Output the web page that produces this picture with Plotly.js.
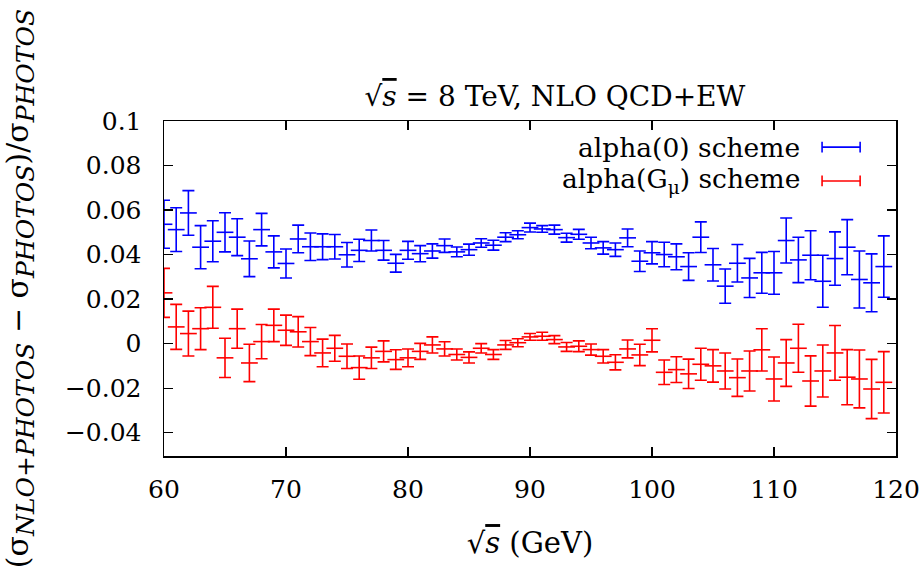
<!DOCTYPE html>
<html>
<head>
<meta charset="utf-8">
<script src="https://cdn.plot.ly/plotly-3.0.1.min.js"></script>
<style>html,body{margin:0;padding:0;background:#fff;}#plot{width:923px;height:566px;}</style>
</head>
<body>
<div id="plot"></div>
<script>
const sqrtS = [60,61,62,63,64,65,66,67,68,69,70,71,72,73,74,75,76,77,78,79,80,81,82,83,84,85,86,87,88,89,90,91,92,93,94,95,96,97,98,99,100,101,102,103,104,105,106,107,108,109,110,111,112,113,114,115,116,117,118,119];

const alpha0 = [0.0536,0.0512,0.0587,0.0433,0.0460,0.0500,0.0478,0.0381,0.0512,0.0412,
  0.0360,0.0470,0.0435,0.0435,0.0435,0.0399,0.0419,0.0463,0.0419,0.0361,
  0.0419,0.0404,0.0416,0.0440,0.0412,0.0422,0.0452,0.0442,0.0478,0.0489,
  0.0521,0.0515,0.0512,0.0476,0.0491,0.0452,0.0430,0.0422,0.0475,0.0370,
  0.0408,0.0400,0.0390,0.0346,0.0478,0.0354,0.0258,0.0361,0.0295,0.0318,
  0.0318,0.0463,0.0376,0.0397,0.0280,0.0382,0.0433,0.0288,0.0273,0.0346];
const alpha0Err = [0.0108,0.0098,0.0100,0.0097,0.0092,0.0088,0.0083,0.0080,0.0073,0.0072,
  0.0065,0.0062,0.0062,0.0058,0.0055,0.0055,0.0050,0.0047,0.0044,0.0040,
  0.0040,0.0036,0.0032,0.0030,0.0022,0.0025,0.0019,0.0022,0.0020,0.0018,
  0.0020,0.0015,0.0020,0.0020,0.0022,0.0026,0.0028,0.0030,0.0040,0.0046,
  0.0050,0.0055,0.0058,0.0062,0.0069,0.0073,0.0077,0.0084,0.0088,0.0092,
  0.0096,0.0101,0.0102,0.0110,0.0117,0.0120,0.0124,0.0128,0.0130,0.0138];

const alphaGmu = [0.0228,0.0075,0.0045,0.0067,0.0163,-0.0064,0.0067,-0.0087,0.0009,0.0082,
  0.0060,0.0053,0.0009,-0.0042,-0.0021,-0.0057,-0.0108,-0.0064,-0.0035,-0.0072,
  -0.0064,-0.0035,-0.0006,-0.0024,-0.0049,-0.0062,-0.0021,-0.0049,-0.0006,0.0004,
  0.0030,0.0033,0.0018,-0.0015,-0.0012,-0.0027,-0.0057,-0.0084,-0.0024,-0.0051,
  0.0015,-0.0129,-0.0117,-0.0136,-0.0093,-0.0100,-0.0123,-0.0153,-0.0123,-0.0028,
  -0.0159,-0.0087,-0.0021,-0.0168,-0.0123,-0.0042,-0.0151,-0.0159,-0.0204,-0.0174];
const alphaGmuErr = [0.0110,0.0101,0.0101,0.0094,0.0094,0.0088,0.0088,0.0084,0.0077,0.0073,
  0.0068,0.0068,0.0063,0.0062,0.0058,0.0055,0.0052,0.0048,0.0047,0.0044,
  0.0040,0.0036,0.0036,0.0032,0.0025,0.0025,0.0021,0.0022,0.0020,0.0018,
  0.0015,0.0018,0.0018,0.0020,0.0024,0.0025,0.0030,0.0034,0.0040,0.0048,
  0.0052,0.0055,0.0058,0.0066,0.0072,0.0073,0.0081,0.0084,0.0090,0.0095,
  0.0099,0.0105,0.0108,0.0113,0.0117,0.0123,0.0124,0.0130,0.0133,0.0138];

const seriesNames = ['alpha(0) scheme', 'alpha(G<sub>μ</sub>) scheme'];
const xTickVals = [60,70,80,90,100,110,120];
const xTickText = ['60','70','80','90','100','110','120'];
const yTickVals = [0.1,0.08,0.06,0.04,0.02,0,-0.02,-0.04];
const yTickText = ['0.1','0.08','0.06','0.04','0.02','0','\u22120.02','\u22120.04'];

const BLUE = '#0000ff', RED = '#ff0000';
const FONT = 'DejaVu Serif, Liberation Serif, serif';

function mk(y, err, color, name) {
  return {
    type: 'scatter', mode: 'markers', x: sqrtS, y: y, name: name,
    marker: {symbol: 'line-ew', size: 12, color: color, line: {width: 1.6, color: color}},
    error_y: {type: 'data', array: err, visible: true, color: color, thickness: 1.6, width: 6},
    cliponaxis: true, showlegend: false
  };
}

const data = [mk(alpha0, alpha0Err, BLUE, seriesNames[0]), mk(alphaGmu, alphaGmuErr, RED, seriesNames[1])];

// manual legend (text left, key right like the original)
const legY = [0.922, 0.821];
const colors = [BLUE, RED];
const kx0 = 0.899, kx1 = 0.951, capH = 0.016;
const shapes = [];
const annotations = [];
for (let i = 0; i < 2; i++) {
  annotations.push({xref:'paper', yref:'paper', x: 0.872, y: legY[i], xanchor:'right', yanchor:'middle',
    text: seriesNames[i], showarrow:false, font:{family:FONT, size:26.5, color:'#000'}});
  shapes.push({type:'line', xref:'paper', yref:'paper', x0:kx0, x1:kx1, y0:legY[i], y1:legY[i], line:{color:colors[i], width:1.6}});
  shapes.push({type:'line', xref:'paper', yref:'paper', x0:kx0, x1:kx0, y0:legY[i]-capH, y1:legY[i]+capH, line:{color:colors[i], width:1.6}});
  shapes.push({type:'line', xref:'paper', yref:'paper', x0:kx1, x1:kx1, y0:legY[i]-capH, y1:legY[i]+capH, line:{color:colors[i], width:1.6}});
}

const sub = t => '<sub><span style="font-size:25px"><i>' + t + '</i></span></sub>';

const layout = {
  width: 923, height: 566,
  margin: {l: 164, r: 27, t: 121, b: 110},
  paper_bgcolor: '#fff', plot_bgcolor: '#fff',
  font: {family: FONT, size: 25, color: '#000'},
  title: {text: '√<span style="text-decoration:overline"><i>s</i></span> = 8 TeV, NLO QCD+EW',
          x: 0.534, xanchor: 'center', y: 0.83, yanchor: 'middle',
          xref: 'paper', font: {family: FONT, size: 28, color: '#000'}},
  xaxis: {
    range: [60, 120], tickmode: 'array', tickvals: xTickVals, ticktext: xTickText,
    ticks: 'inside', ticklen: 9, tickwidth: 1.2, tickcolor: '#000',
    showline: true, linecolor: '#000', linewidth: 1.5, mirror: 'ticks',
    showgrid: false, zeroline: false, ticklabelstandoff: 10,
    tickfont: {family: FONT, size: 25, color: '#000'},
    title: {text: '√<span style="text-decoration:overline"><i>s</i></span> (GeV)', font: {family: FONT, size: 29, color: '#000'}, standoff: 30}
  },
  yaxis: {
    range: [-0.0505, 0.1], tickmode: 'array', tickvals: yTickVals, ticktext: yTickText,
    ticks: 'inside', ticklen: 9, tickwidth: 1.2, tickcolor: '#000',
    showline: true, linecolor: '#000', linewidth: 1.5, mirror: 'ticks',
    showgrid: false, zeroline: false, ticklabelstandoff: 16,
    tickfont: {family: FONT, size: 25, color: '#000'},
    title: {text: '(σ' + sub('NLO+PHOTOS') + ' − σ' + sub('PHOTOS') + ')/σ' + sub('PHOTOS'),
            font: {family: FONT, size: 30, color: '#000'}, standoff: 28}
  },
  shapes: shapes,
  annotations: annotations
};

Plotly.newPlot('plot', data, layout, {displayModeBar: false, staticPlot: true});
</script>
</body>
</html>
